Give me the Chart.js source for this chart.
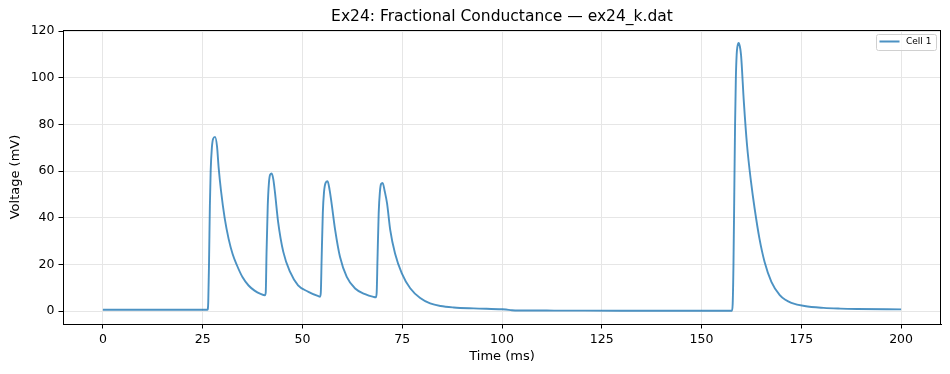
<!DOCTYPE html>
<html>
<head>
<meta charset="utf-8">
<script src="https://cdn.jsdelivr.net/npm/chart.js@4.4.1/dist/chart.umd.min.js"></script>
<style>
  html, body { margin: 0; padding: 0; background: #fff; }
  #wrap { width: 950px; height: 374px; }
</style>
</head>
<body>
<div id="wrap"><canvas id="voltChart" width="950" height="374"></canvas></div>
<script>
// values (time in ms, voltage in mV)
const timeMs = [
  0, 26.2, 26.4, 26.6, 26.8, 27.0, 27.3, 27.6, 28.1, 28.6, 29.0, 29.6, 30.5, 31.5, 32.5, 33.5, 35.0, 36.5, 38.0, 39.5, 40.6,
  40.8, 41.0, 41.3, 41.6, 41.9, 42.3, 42.7, 43.1, 43.9, 45.2, 46.9, 48.9, 51.5, 54.0, 54.4,
  54.6, 54.8, 55.1, 55.4, 55.8, 56.3, 56.8, 57.3, 58.2, 59.4, 61.1, 63.2, 65.7, 67.8, 68.4,
  68.6, 68.8, 69.1, 69.4, 69.7, 70.1, 70.6, 71.2, 72.0, 73.2, 74.9, 77.0, 79.5, 82.0, 84.6, 87.9, 92.9, 100.0,
  101.0, 102.5, 104.6, 113, 130, 157.6,
  157.8, 158.0, 158.2, 158.4, 158.6, 158.8, 159.0, 159.3, 159.6, 159.9, 160.6, 161.4, 162.4, 163.3, 164.5, 165.8,
  167.5, 169.6, 171.0, 172.5, 175.8, 180.6, 184.8, 189, 200
];
const voltageMv = [
  0.6, 0.6, 4, 22, 45, 60, 70, 73.8, 74.7, 70.5, 61.5, 51.5, 40, 31, 24.5, 20, 14.5, 11, 8.8, 7.4, 6.8,
  8, 25, 45, 55, 58.5, 59.0, 56.5, 51.1, 38.3, 25.4, 16.8, 11.1, 8.3, 6.4, 6.2,
  8, 22, 42, 51, 55, 55.7, 52, 46.2, 34.7, 23.3, 14.7, 9.7, 7.3, 6.1, 5.9,
  8, 22, 42, 51, 54.5, 55.0, 51.5, 46.2, 34.7, 24.7, 16.2, 9.8, 5.6, 3.3, 2.2, 1.6, 1.2, 0.8,
  0.7, 0.4, 0.3, 0.25, 0.2, 0.2,
  3, 20, 50, 80, 100, 110, 113.5, 115.0, 113.5, 109.7, 89.7, 71.1, 55.4, 44, 31.2, 21.1,
  12.6, 6.9, 4.9, 3.6, 2.2, 1.4, 1.1, 0.95, 0.75
];
const xTickValues = [0, 25, 50, 75, 100, 125, 150, 175, 200];
const yTickValues = [0, 20, 40, 60, 80, 100, 120];
const seriesName = 'Cell 1';

const lineColor = 'rgba(31,119,180,0.8)';
const font = 'DejaVu Sans';

const points = timeMs.map((t, i) => ({ x: t, y: voltageMv[i] }));

// title, axis titles, full frame and boxed legend (matplotlib style)
const decor = {
  id: 'decor',
  afterDraw(chart) {
    const ctx = chart.ctx;
    const a = chart.chartArea;
    ctx.save();
    ctx.strokeStyle = '#000';
    ctx.lineWidth = 1;
    ctx.strokeRect(a.left + 0.5, a.top + 0.5, a.right - a.left - 1, a.bottom - a.top);

    ctx.fillStyle = '#000';
    ctx.textAlign = 'center';
    ctx.textBaseline = 'middle';
    ctx.font = '15.5px "' + font + '"';
    ctx.fillText('Ex24: Fractional Conductance \u2014 ex24_k.dat', (a.left + a.right) / 2, 17);

    ctx.font = '13px "' + font + '"';
    ctx.fillText('Time (ms)', (a.left + a.right) / 2, 357);
    ctx.save();
    ctx.translate(16, (a.top + a.bottom) / 2);
    ctx.rotate(-Math.PI / 2);
    ctx.fillText('Voltage (mV)', 0, 0);
    ctx.restore();

    // legend
    const lx = 876.5, ly = 34.5, lw = 60, lh = 16;
    ctx.fillStyle = 'rgba(255,255,255,0.8)';
    ctx.strokeStyle = '#d0d0d0';
    ctx.beginPath();
    ctx.roundRect(lx, ly, lw, lh, 2);
    ctx.fill();
    ctx.stroke();
    ctx.strokeStyle = lineColor;
    ctx.lineWidth = 2;
    ctx.beginPath();
    ctx.moveTo(879.5, 41.5);
    ctx.lineTo(899.5, 41.5);
    ctx.stroke();
    ctx.fillStyle = '#000';
    ctx.textAlign = 'left';
    ctx.font = '9px "' + font + '"';
    ctx.fillText(seriesName, 906, 42);
    ctx.restore();
  }
};

const config = {
  type: 'line',
  data: {
    datasets: [{
      label: seriesName,
      data: points,
      borderColor: lineColor,
      borderWidth: 1.9,
      pointRadius: 0,
      cubicInterpolationMode: 'monotone',
      fill: false,
    }],
  },
  options: {
    responsive: false,
    animation: false,
    devicePixelRatio: 1,
    layout: { padding: { left: 0, top: 30, right: 9, bottom: 0 } },
    plugins: {
      legend: { display: false },
      title: { display: false },
      tooltip: { enabled: false },
    },
    scales: {
      x: {
        type: 'linear',
        min: -10,
        max: 210,
        afterBuildTicks: (s) => { s.ticks = xTickValues.map(v => ({ value: v })); },
        afterFit: (s) => { s.height = 50; },
        grid: { color: '#e6e6e6', lineWidth: 1, tickColor: '#000', tickLength: 4.5, drawTicks: true },
        border: { display: true, color: '#000', width: 1 },
        ticks: { color: '#000', font: { family: font, size: 12.5 }, padding: 4, maxRotation: 0 },
      },
      y: {
        type: 'linear',
        min: -5.5,
        max: 120.5,
        afterBuildTicks: (s) => { s.ticks = yTickValues.map(v => ({ value: v })); },
        afterFit: (s) => { s.width = 63; },
        grid: { color: '#e6e6e6', lineWidth: 1, tickColor: '#000', tickLength: 4.5, drawTicks: true },
        border: { display: true, color: '#000', width: 1 },
        ticks: { color: '#000', font: { family: font, size: 12.5 }, padding: 4 },
      },
    },
  },
  plugins: [decor],
};

var voltChart = new Chart(document.getElementById('voltChart'), config);
</script>
</body>
</html>
